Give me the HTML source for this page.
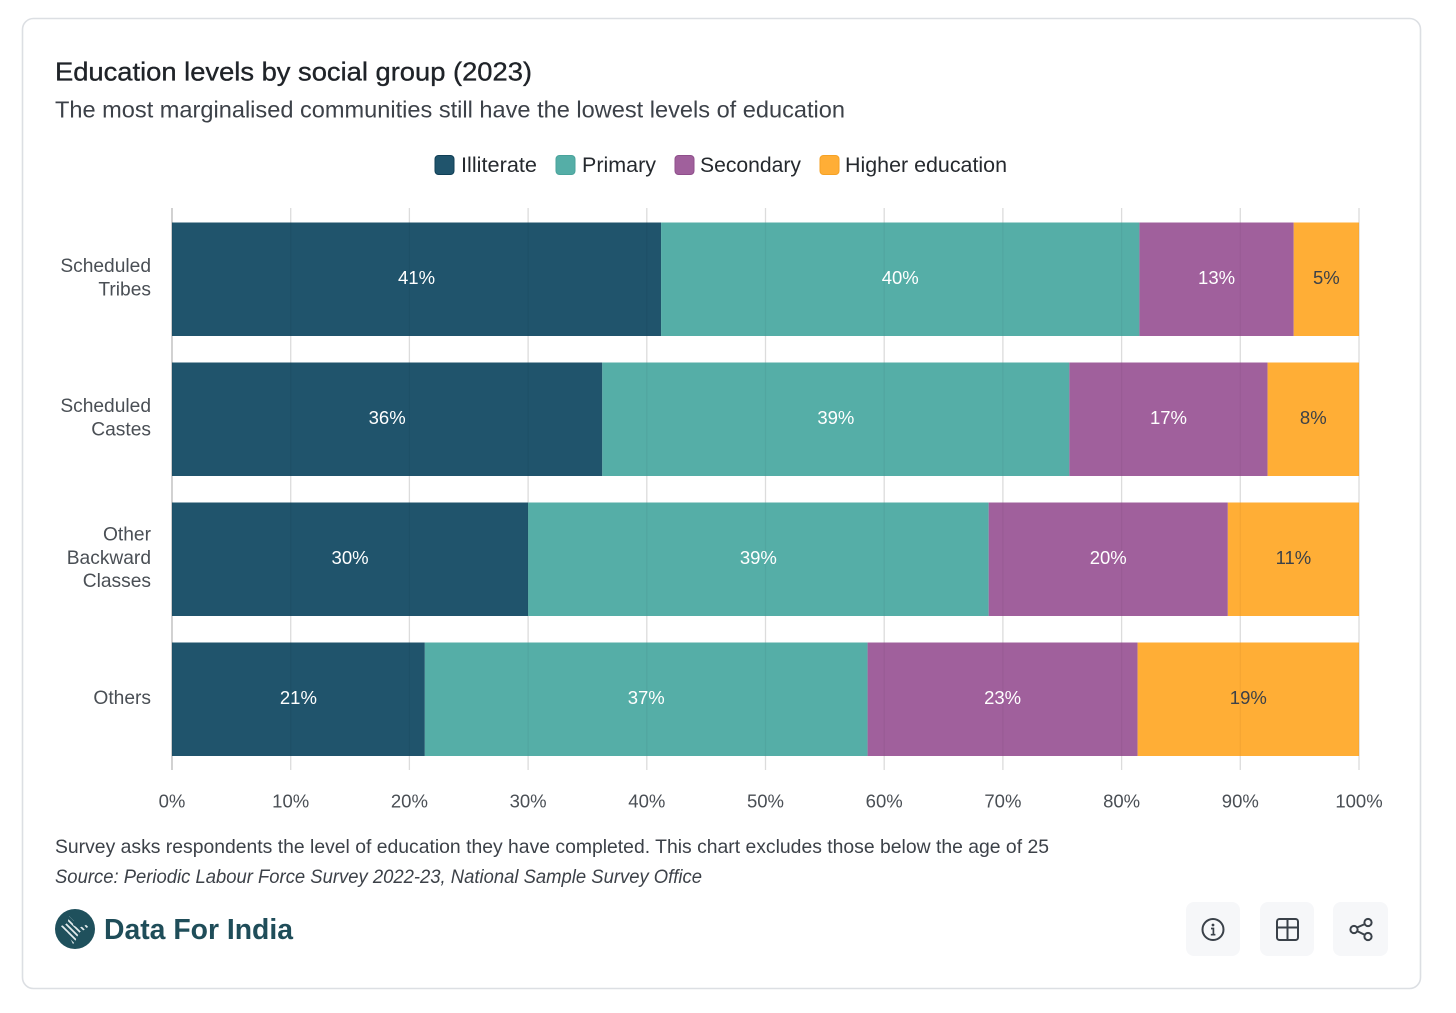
<!DOCTYPE html>
<html lang="en">
<head>
<meta charset="utf-8">
<title>Education levels by social group (2023)</title>
<style>
html,body{margin:0;padding:0;background:#fff;width:1456px;height:1013px;overflow:hidden}
svg{display:block;font-family:"Liberation Sans",Arial,sans-serif}
</style>
</head>
<body>
<svg id="chart" xmlns="http://www.w3.org/2000/svg" width="1456" height="1013" viewBox="0 0 1456 1013">
  <defs>
    <clipPath id="india-clip">
      <path d="M69 916l5 5-1 4 5 3 6-2 5-3-1 4-4 3-4 2-3 5-2 5-2 2-3-6-3-6-5-3-1-3 5-2 2-3z"/>
    </clipPath>
  </defs>
  <rect x="22.5" y="18.5" width="1398" height="970" rx="11" fill="#fff" stroke="#dcdfe3" stroke-width="1.6"/>
  <text x="55" y="80.5" font-size="26" font-weight="400" fill="#1f2328" stroke="#1f2328" stroke-width="0.35" textLength="477" lengthAdjust="spacingAndGlyphs">Education levels by social group (2023)</text>
  <text x="55" y="117.5" font-size="23" fill="#3c4148" textLength="790" lengthAdjust="spacingAndGlyphs">The most marginalised communities still have the lowest levels of education</text>

  <g id="legend"></g>
  <g id="grid"></g>
  <g id="bars"></g>
  <g id="yaxis"></g>
  <g id="xaxis"></g>

  <text x="55" y="853" font-size="19.5" fill="#3c4148" textLength="994" lengthAdjust="spacingAndGlyphs">Survey asks respondents the level of education they have completed. This chart excludes those below the age of 25</text>
  <text x="55" y="883" font-size="19.5" font-style="italic" fill="#3c4148" textLength="647" lengthAdjust="spacingAndGlyphs">Source: Periodic Labour Force Survey 2022-23, National Sample Survey Office</text>

  <g>
    <circle cx="75" cy="929" r="20" fill="#1f505c"/>
    <g clip-path="url(#india-clip)" stroke="#e4ecee" stroke-width="1.7" fill="none">
      <path d="M52 922l24 24M55 919l24 24M58 916l24 24M61 913l24 24M64 910l24 24M67 907l24 24"/>
    </g>
    <text x="104" y="939" font-size="29" font-weight="700" fill="#1f4d59" textLength="189" lengthAdjust="spacingAndGlyphs">Data For India</text>
  </g>

  <g>
    <rect x="1186" y="902" width="54" height="54" rx="8" fill="#f6f7f9"/>
    <circle cx="1213" cy="929.5" r="10.5" fill="none" stroke="#3a4149" stroke-width="2"/>
    <circle cx="1213" cy="925" r="1.4" fill="#3a4149"/>
    <path d="M1211 928.5h2.4v6M1210.8 934.7h4.6" fill="none" stroke="#3a4149" stroke-width="1.7"/>
  </g>
  <g>
    <rect x="1260" y="902" width="54" height="54" rx="8" fill="#f6f7f9"/>
    <rect x="1277" y="919" width="21" height="21" rx="2.5" fill="none" stroke="#3a4149" stroke-width="2"/>
    <path d="M1277 927.5h21M1287.5 919v21" fill="none" stroke="#3a4149" stroke-width="2"/>
  </g>
  <g>
    <rect x="1333" y="902" width="55" height="54" rx="8" fill="#f6f7f9"/>
    <path d="M1357 927.5l8-3.5M1357 931l8 4" fill="none" stroke="#3a4149" stroke-width="2"/>
    <circle cx="1354" cy="929.5" r="3.6" fill="#f6f7f9" stroke="#3a4149" stroke-width="2"/>
    <circle cx="1368" cy="922.5" r="3.6" fill="#f6f7f9" stroke="#3a4149" stroke-width="2"/>
    <circle cx="1368" cy="936.5" r="3.6" fill="#f6f7f9" stroke="#3a4149" stroke-width="2"/>
  </g>
</svg>
<script>
var categories = [["Scheduled","Tribes"],["Scheduled","Castes"],["Other","Backward","Classes"],["Others"]];
var seriesNames = ["Illiterate","Primary","Secondary","Higher education"];
var illiterate = [41.2,36.25,30.0,21.3];
var primary = [40.3,39.35,38.8,37.3];
var secondary = [13.0,16.7,20.15,22.75];
var higherEducation = [5.5,7.7,11.05,18.65];
var illiterateLabels = ["41%","36%","30%","21%"];
var primaryLabels = ["40%","39%","39%","37%"];
var secondaryLabels = ["13%","17%","20%","23%"];
var higherEducationLabels = ["5%","8%","11%","19%"];
var xTicks = [0,10,20,30,40,50,60,70,80,90,100];

var NS = "http://www.w3.org/2000/svg";
var values = [illiterate, primary, secondary, higherEducation];
var labels = [illiterateLabels, primaryLabels, secondaryLabels, higherEducationLabels];
var fills = ["#174d66", "#4eaba3", "#9c5a98", "#ffab2e"];
var borders = ["#103f56", "#4aa39b", "#8f4f8b", "#f5a226"];
var textFills = ["#ffffff", "#ffffff", "#ffffff", "#3c4148"];
var slugs = ["illiterate", "primary", "secondary", "higher-education"];

function xScale(v){ return 172 + v * 11.87; }
function yBand(i){ return 222.5 + i * 140; }
var barHeight = 113.5;

function mk(tag, attrs, parent, text){
  var el = document.createElementNS(NS, tag);
  for (var k in attrs) el.setAttribute(k, attrs[k]);
  if (text !== undefined) el.textContent = text;
  parent.appendChild(el);
  return el;
}

var grid = document.getElementById("grid");
var xaxis = document.getElementById("xaxis");
xTicks.forEach(function(t){
  var x = xScale(t);
  var line = mk("line", {x1:x, x2:x, y1:208, y2:770, stroke:"#dcdcdc", "stroke-width":1.3}, grid);
  
  
  var tick = mk("text", {x:x, y:807.5, "font-size":18.5, fill:"#4a4f55", "text-anchor":"middle"}, xaxis, t + "%");
  
  
});
var axisLine = mk("line", {x1:172, x2:172, y1:208, y2:770, stroke:"#c2c2c2", "stroke-width":1.4}, grid);



var bars = document.getElementById("bars");
var yaxis = document.getElementById("yaxis");
categories.forEach(function(lines, i){
  var cum = 0;
  values.forEach(function(series, s){
    var v = series[i];
    var x0 = xScale(cum), x1 = xScale(cum + v);
    var r = mk("rect", {x:x0, y:yBand(i), width:x1 - x0, height:barHeight, fill:fills[s], "fill-opacity":0.96}, bars);
    
    
    cum += v;
  });
  xTicks.forEach(function(t){
    var x = xScale(t);
    var over = mk("line", {x1:x, x2:x, y1:yBand(i), y2:yBand(i) + barHeight, stroke:"#000", "stroke-opacity":0.035, "stroke-width":1.3}, bars);
    
    
  });
  cum = 0;
  values.forEach(function(series, s){
    var v = series[i];
    var x0 = xScale(cum), x1 = xScale(cum + v);
    var t = mk("text", {x:(x0 + x1) / 2, y:yBand(i) + barHeight / 2 + 4.5, "font-size":18.5, fill:textFills[s], "text-anchor":"middle"}, bars, labels[s][i]);
    
    
    cum += v;
  });
  var cy = yBand(i) + barHeight / 2;
  var start = cy - (lines.length - 1) * 23.3 / 2 + 4.5;
  lines.forEach(function(word, j){
    var c = mk("text", {x:151, y:start + j * 23.3, "font-size":19.2, fill:"#4a4f55", "text-anchor":"end"}, yaxis, word);
    
    
  });
});

var legend = document.getElementById("legend");
var legendSwatchX = [435, 556, 675, 820];
var legendTextOffset = [26, 26, 25, 25];
var legendTextWidth = [76, 74, 101, 162];
seriesNames.forEach(function(name, s){
  var sw = mk("rect", {x:legendSwatchX[s], y:155.5, width:19, height:19, rx:3.5, fill:fills[s], "fill-opacity":0.96, stroke:borders[s], "stroke-width":1}, legend);
  
  
  var lt = mk("text", {x:legendSwatchX[s] + legendTextOffset[s], y:172, "font-size":21.5, fill:"#25292e", textLength:legendTextWidth[s], lengthAdjust:"spacingAndGlyphs"}, legend, name);
  
  
});
</script>
</body>
</html>
